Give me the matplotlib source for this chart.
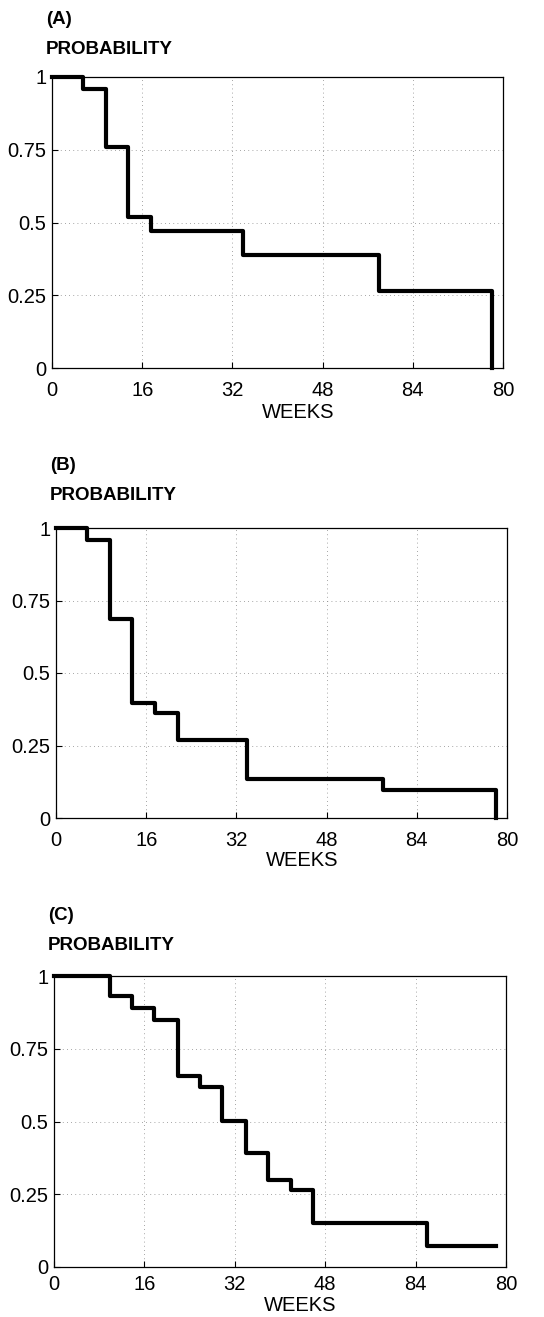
import matplotlib
matplotlib.use("Agg")
import matplotlib.pyplot as plt

# Kaplan-Meier style step curves
A_WEEKS = [0, 5.5, 9.5, 13.5, 17.5, 33.8, 58.0, 78.0]
A_PROB = [1.0, 0.96, 0.76, 0.52, 0.47, 0.39, 0.265, 0.0]

B_WEEKS = [0, 5.5, 9.5, 13.5, 17.5, 21.7, 33.8, 58.0, 78.0]
B_PROB = [1.0, 0.957, 0.686, 0.398, 0.361, 0.27, 0.133, 0.095, 0.0]

C_WEEKS = [0, 9.9, 13.8, 17.7, 21.9, 25.8, 29.8, 34.0, 37.9, 41.9, 45.9, 66.0, 78.3]
C_PROB = [1.0, 0.93, 0.89, 0.848, 0.655, 0.617, 0.502, 0.392, 0.30, 0.263, 0.151, 0.072, 0.072]

X_TICKS = [0, 16, 32, 48, 64, 80]
X_TICKLABELS = ["0", "16", "32", "48", "84", "80"]
Y_TICKS = [0, 0.25, 0.5, 0.75, 1]
Y_TICKLABELS = ["0", "0.25", "0.5", "0.75", "1"]

plt.rcParams["font.family"] = ["Liberation Sans", "DejaVu Sans"]

W, H = 544, 1317
fig = plt.figure(figsize=(W / 100, H / 100), dpi=100)

# (label, weeks, prob, axes box px: left, top, right, bottom, label y, prob-title y, x tick pad, xlabel offset)
panels = [
    ("(A)", A_WEEKS, A_PROB, (52, 77, 503, 368), 20, 50, 9, -0.12),
    ("(B)", B_WEEKS, B_PROB, (56, 528, 507, 818), 465, 495, 9, -0.115),
    ("(C)", C_WEEKS, C_PROB, (54, 976, 506, 1267), 915, 945, 6, -0.1),
]

for lab, wk, pr, (l, t, r, b), ly, py, xpad, xoff in panels:
    ax = fig.add_axes([l / W, 1 - b / H, (r - l) / W, (b - t) / H])
    ax.step(wk, pr, where="post", color="black", lw=3.0, clip_on=False, zorder=3)
    ax.set_xlim(0, 80)
    ax.set_ylim(0, 1)
    ax.set_xticks(X_TICKS)
    ax.set_xticklabels(X_TICKLABELS)
    ax.set_yticks(Y_TICKS)
    ax.set_yticklabels(Y_TICKLABELS)
    ax.tick_params(direction="in", length=4, width=0.8, labelsize=14.5)
    ax.tick_params(axis="x", pad=xpad)
    ax.tick_params(axis="y", pad=4)
    ax.grid(True, color="#888888", lw=0.6, linestyle=(0, (1, 4)))
    for s in ax.spines.values():
        s.set_linewidth(0.9)
    ax.set_xlabel("WEEKS", fontsize=14.5, labelpad=1)
    ax.xaxis.set_label_coords(0.545, xoff)
    x0 = (l - 6) / W
    fig.text(x0, 1 - ly / H, lab, fontsize=13.5, fontweight="bold", va="center", ha="left")
    fig.text(x0, 1 - py / H, "PROBABILITY", fontsize=13.5, fontweight="bold", va="center", ha="left")

fig.savefig("out.png", dpi=100)
